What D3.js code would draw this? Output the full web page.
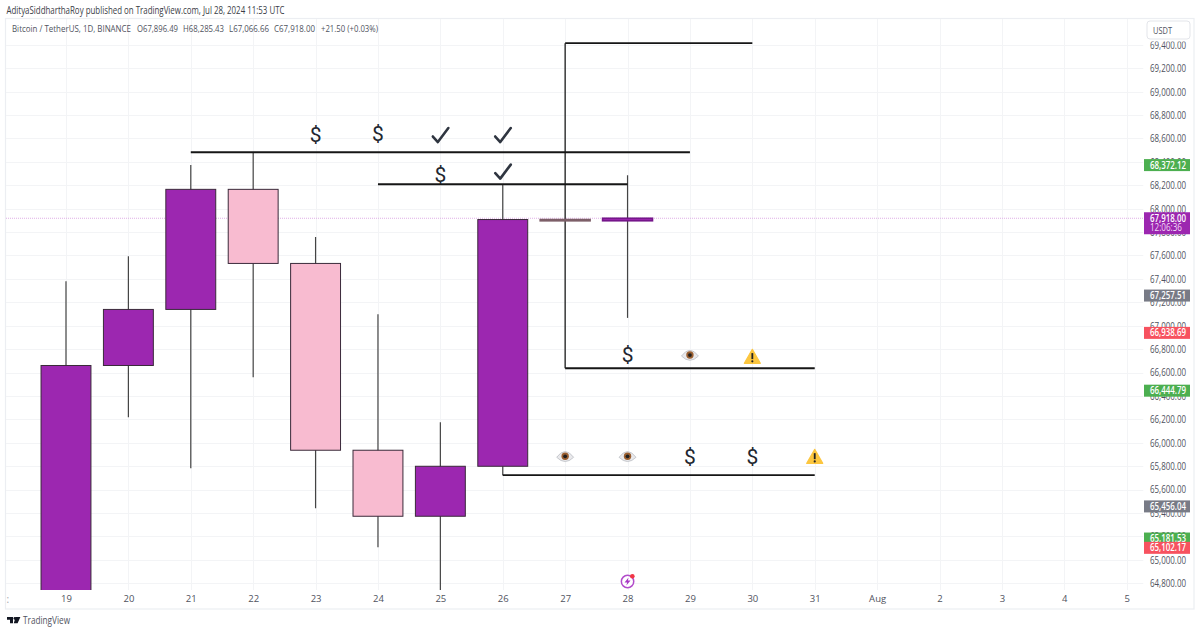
<!DOCTYPE html>
<html><head><meta charset="utf-8">
<style>
html,body{margin:0;padding:0;background:#fff}
svg{display:block}
text{font-family:"Open Sans","Noto Sans",sans-serif}
</style>
<script src="https://cdnjs.cloudflare.com/ajax/libs/d3/7.8.5/d3.min.js"></script>
</head><body><svg id="c" width="1200" height="633"></svg>
<script>
const timeLabels=["18","19","20","21","22","23","24","25","26","27","28","29","30","31","Aug","2","3","4","5"];
const candleDays=["19","20","21","22","23","24","25","26","27","28"];
const opens =[63987,66660,67139,68165,67532,65936,65372,65799,67907,67896.49];
const highs =[67380,67594,68372.12,68482,67757,67098,66176,68209,69414,68285.43];
const lows  =[63300,66218,65783,66560,65441,65108,64300,65723,66637,67066.66];
const closes=[66660,67139,68165,67532,65936,65372,65799,67907,67896,67918];
const priceTicks=d3.range(64800,69401,200);
const hLineFrom=["21","24","27","27","26"];
const hLineTo  =["29","28","30","31","31"];
const hLinePrice=[68482,68209,69414,66637,65723];
const symKinds =["dollar","dollar","check","check","dollar","check","dollar","eye","warn","eye","eye","dollar","dollar","warn"];
const symDays  =["23","24","25","26","25","26","28","29","30","27","28","29","30","31"];
const symPrices=[68635,68640,68625,68625,68295,68312,66755,66745,66730,65880,65880,65880,65880,65875];
const tagPrices=[68372.12,67257.51,66938.69,66444.79,65456.04,65181.53,65102.17];
const tagColors=["#4caf50","#787b86","#f7525f","#4caf50","#787b86","#4caf50","#f7525f"];
const lastPrice=67918, countdown="12:06:36";
const headerText="AdityaSiddharthaRoy published on TradingView.com, Jul 28, 2024 11:53 UTC";
const legendParts=["Bitcoin / TetherUS, 1D, BINANCE","O67,896.49","H68,285.43","L67,066.66","C67,918.00","+21.50 (+0.03%)"];
const fmt=d3.format(",.2f");

const svg=d3.select("#c");
const pL=6,pR=1143.5,pT=19,pB=590,frameR=1193.5,frameB=608.5;
const x=d3.scaleLinear().domain([-1,17]).range([3.6,1126.7]);
const y=d3.scaleLinear().domain([64800,69200]).range([583.2,68.2]);
const dayX=d=>x(timeLabels.indexOf(d)-1);
const step=x(1)-x(0);
const squeeze=(s,len)=>s.attr("textLength",len).attr("lengthAdjust","spacingAndGlyphs");

svg.append("rect").attr("x",pL-.5).attr("y",pT-.5).attr("width",frameR-pL+1).attr("height",frameB-pT+1).attr("fill","#fff").attr("stroke","#eceef2").attr("stroke-width",1.2);
const defs=svg.append("defs");
defs.append("clipPath").attr("id","plot").append("rect").attr("x",pL).attr("y",pT).attr("width",pR-pL).attr("height",pB-pT);

// grid
const plot=svg.append("g").attr("clip-path","url(#plot)");
plot.append("g").selectAll("line").data(priceTicks).join("line")
  .attr("x1",pL).attr("x2",pR).attr("y1",d=>Math.round(y(d))+.5).attr("y2",d=>Math.round(y(d))+.5).attr("stroke","#f3f4f6");
plot.append("g").selectAll("line").data(timeLabels).join("line")
  .attr("x1",(d,i)=>Math.round(x(i-1))+.5).attr("x2",(d,i)=>Math.round(x(i-1))+.5).attr("y1",pT).attr("y2",pB).attr("stroke","#f3f4f6");

// last price line
plot.append("line").attr("x1",pL).attr("x2",pR).attr("y1",y(lastPrice)).attr("y2",y(lastPrice))
  .attr("stroke","#dfaee6").attr("stroke-dasharray","1 1").attr("stroke-width",1);

// candles
const candles=candleDays.map((d,i)=>({d,o:opens[i],h:highs[i],l:lows[i],c:closes[i]}));
const bw=step*0.8;
const g=plot.append("g");
g.selectAll("line.w").data(candles).join("line").attr("class","w")
  .attr("x1",d=>dayX(d.d)).attr("x2",d=>dayX(d.d)).attr("y1",d=>y(d.h)).attr("y2",d=>y(d.l))
  .attr("stroke",d=>d.d==="27"?"#2a2a2a":"#444").attr("stroke-width",d=>d.d==="27"?1.4:1.2);
g.selectAll("rect").data(candles).join("rect")
  .attr("x",d=>dayX(d.d)-bw/2).attr("width",bw)
  .attr("y",d=>y(Math.max(d.o,d.c))).attr("height",d=>Math.abs(y(d.o)-y(d.c)))
  .attr("fill",d=>d.c>=d.o?"#9c27b0":"#f8bbd0")
  .attr("stroke",d=>d.d==="28"?"#75168a":d.d==="27"?"#7d5f68":"#3a2a3a")
  .attr("stroke-width",d=>d.d==="28"||d.d==="27"?1.6:1);

// horizontal level lines
const hl=hLineFrom.map((f,i)=>({f,t:hLineTo[i],p:hLinePrice[i]}));
plot.append("g").selectAll("line").data(hl).join("line")
  .attr("x1",d=>dayX(d.f)).attr("x2",d=>dayX(d.t)).attr("y1",d=>y(d.p)).attr("y2",d=>y(d.p))
  .attr("stroke","#161616").attr("stroke-width",1.9);

// symbols
const syms=symKinds.map((k,i)=>({k,d:symDays[i],p:symPrices[i]}));
const sg=plot.append("g").selectAll("g").data(syms).join("g").attr("transform",d=>`translate(${dayX(d.d)},${y(d.p)})`);
sg.filter(d=>d.k==="dollar").append("text").text("$").attr("text-anchor","middle").attr("y",7.5)
  .attr("font-size",21).attr("fill","#22262f").style("font-family","Roboto,sans-serif");
sg.filter(d=>d.k==="check").append("path").attr("d","M-7.5,1 L-2.5,6.5 L8,-7.5").attr("fill","none").attr("stroke","#2f3540").attr("stroke-width",2.6).attr("stroke-linecap","round").attr("stroke-linejoin","round");
const eye=sg.filter(d=>d.k==="eye");
eye.append("path").attr("d","M-8.5,.5 Q0,-11 8.5,.5 Q0,9 -8.5,.5 Z").attr("fill","#e9e9ec").attr("stroke","#b5b8bd").attr("stroke-width",.7);
eye.append("circle").attr("cy",-.5).attr("r",3.7).attr("fill","#9a5f30");
eye.append("circle").attr("cy",-.5).attr("r",1.9).attr("fill","#1f1f1f");
const warn=sg.filter(d=>d.k==="warn");
warn.append("path").attr("d","M0,-8 L8,6 L-8,6 Z").attr("fill","#fcc63f").attr("stroke","#fcc63f").attr("stroke-width",1.2).attr("stroke-linejoin","round");
warn.append("rect").attr("x",-.9).attr("y",-4.2).attr("width",1.8).attr("height",6).attr("fill","#222");
warn.append("circle").attr("cy",4).attr("r",1.1).attr("fill","#222");

// lightning marker
const lg=plot.append("g").attr("transform",`translate(${dayX("28")},581.5)`);
lg.append("circle").attr("r",6.2).attr("fill","#fff").attr("stroke","#b24ccb").attr("stroke-width",1.5);
lg.append("path").attr("d","M1,-4 L-3,1 L-.4,1 L-1.2,4 L3,-1 L.4,-1 Z").attr("fill","#a838c4");
lg.append("circle").attr("cx",4.8).attr("cy",-5.2).attr("r",2.3).attr("fill","#f23645");

// axes
const yAxis=d3.axisRight(y).tickValues(priceTicks).tickSize(0).tickPadding(0).tickFormat(fmt);
const ya=svg.append("g").attr("transform","translate(1150,0)").call(yAxis);
ya.select(".domain").remove();
ya.selectAll("text").attr("font-size",10).attr("fill","#50535e").attr("dy","0.34em").attr("x",0).call(squeeze,36);

const xAxis=d3.axisBottom(x).tickValues(d3.range(-1,18)).tickSize(0).tickPadding(0).tickFormat(i=>timeLabels[i+1]);
const xi=svg.append("g").attr("transform","translate(0,595.5)").call(xAxis);
xi.select(".domain").remove();
xi.selectAll("text").attr("font-size",9.5).attr("fill","#50535e").attr("y",0).attr("dy","0.71em");
xi.selectAll(".tick").filter(d=>d===-1).remove();

// axis fragment of the clipped first label
svg.append("text").text(":").attr("x",6.5).attr("y",603).attr("font-size",10).attr("fill","#a0a3ab");

// USDT button (covers the top of the highest tick label)
svg.append("rect").attr("x",1144).attr("y",20).attr("width",48).attr("height",21.5).attr("fill","#fff");
svg.append("rect").attr("x",1147).attr("y",21).attr("width",43).attr("height",18).attr("rx",3).attr("fill","#fff").attr("stroke","#e3e5ea");
svg.append("text").text("USDT").attr("x",1153).attr("y",33.5).attr("font-size",9.5).attr("fill","#50535e").call(squeeze,19);

// price tags
const tags=tagPrices.map((p,i)=>({p,c:tagColors[i]}));
const tg=svg.append("g").selectAll("g").data(tags).join("g").attr("transform",d=>`translate(0,${y(d.p)})`);
tg.append("rect").attr("x",1144).attr("y",-6).attr("width",46).attr("height",12).attr("fill",d=>d.c);
tg.append("text").text(d=>fmt(d.p)).attr("x",1150).attr("y",3.5).attr("font-size",10).attr("font-weight",600).attr("fill","#fff").call(squeeze,36);

const ly=y(lastPrice);
svg.append("rect").attr("x",1144).attr("y",ly-6).attr("width",46).attr("height",22).attr("fill","#9c27b0");
svg.append("text").text(fmt(lastPrice)).attr("x",1150).attr("y",ly+3.5).attr("font-size",10).attr("font-weight",600).attr("fill","#fff").call(squeeze,36);
svg.append("text").text(countdown).attr("x",1150).attr("y",ly+13).attr("font-size",10).attr("fill","#f3dcf7").call(squeeze,32);

// header
svg.append("text").text(headerText).attr("x",6.5).attr("y",13.5).attr("font-size",10).attr("fill","#3a3d46").call(squeeze,278);
const legendX=[12,137,183,229,274,321], legendW=[119,41,41,40,41,57];
svg.append("g").selectAll("text").data(legendParts).join("text").text(d=>d)
  .attr("x",(d,i)=>legendX[i]).attr("y",32).attr("font-size",9.5).attr("fill","#50535e")
  .each(function(d,i){d3.select(this).call(squeeze,legendW[i]);});

// footer logo
const logo=svg.append("g").attr("transform","translate(7,617)").attr("fill","#131722");
logo.append("path").attr("d","M0,0 H6 V6.3 H3 V2.8 H0 Z M8.6,0 H13.4 L10.6,6.3 H6.8 Z");
logo.append("circle").attr("cx",7.9).attr("cy",1.4).attr("r",1.4);
svg.append("text").text("TradingView").attr("x",23).attr("y",624).attr("font-size",10).attr("fill","#50535e").call(squeeze,47);
</script></body></html>
